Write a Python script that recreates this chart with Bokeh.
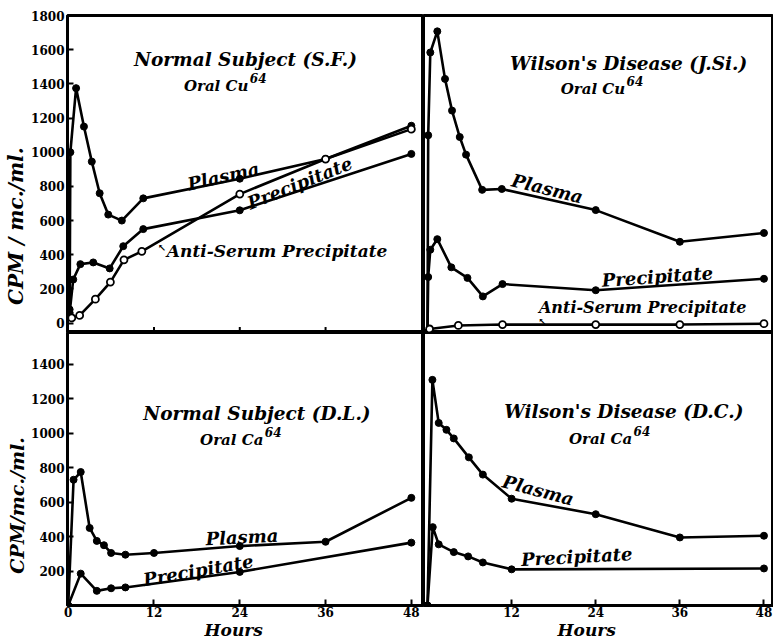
import math
from bokeh.plotting import figure
from bokeh.layouts import gridplot
from bokeh.models import Label, FixedTicker, Range1d
from bokeh.embed import file_html
from bokeh.resources import INLINE

# ---------------- data (hours, CPM/mc./ml.) ----------------
# Normal Subject (S.F.)
sf_plasma_h = [0.2, 0.3, 1.1, 2.2, 3.3, 4.4, 5.6, 7.5, 10.5, 24, 36, 48]
sf_plasma = [80, 1000, 1375, 1150, 945, 760, 635, 600, 730, 845, 960, 1155]
sf_precip_h = [0.2, 0.7, 1.7, 3.5, 5.8, 7.7, 10.5, 24, 48]
sf_precip = [60, 255, 345, 355, 320, 450, 550, 660, 990]
sf_anti_h = [0.5, 1.6, 3.8, 5.9, 7.8, 10.3, 24, 36, 48]
sf_anti = [30, 45, 140, 240, 370, 420, 755, 960, 1135]

# Wilson's Disease (J.Si.)
js_plasma_h = [0, 0.1, 0.4, 1.4, 2.5, 3.5, 4.6, 5.5, 7.8, 10.6, 24, 36, 48]
js_plasma = [0, 1120, 1590, 1710, 1440, 1260, 1110, 1010, 810, 815, 695, 515, 565]
js_precip_h = [0, 0.1, 0.4, 1.4, 3.4, 5.7, 7.9, 10.7, 24, 48]
js_precip = [0, 315, 470, 530, 370, 310, 205, 275, 240, 305]
js_anti_h = [0.3, 4.4, 10.7, 24, 36, 48]
js_anti = [20, 40, 45, 45, 45, 50]

# Normal Subject (D.L.)
dl_plasma_h = [0, 0.75, 1.75, 3, 4, 5, 6, 8, 12, 24, 36, 48]
dl_plasma = [0, 730, 775, 450, 375, 350, 305, 295, 305, 345, 370, 625]
dl_precip_h = [0, 1.75, 4, 6, 8, 24, 48]
dl_precip = [0, 185, 85, 100, 105, 195, 365]

# Wilson's Disease (D.C.)
dc_plasma_h = [0, 0.7, 1.6, 2.7, 3.75, 5.9, 7.9, 12, 24, 36, 48]
dc_plasma = [0, 1310, 1060, 1020, 970, 860, 760, 620, 530, 395, 405]
dc_precip_h = [0, 0.75, 1.6, 3.75, 5.8, 7.9, 12, 48]
dc_precip = [0, 455, 355, 310, 285, 250, 210, 215]

top_y_ticks = [0, 200, 400, 600, 800, 1000, 1200, 1400, 1600, 1800]
bottom_y_ticks = [200, 400, 600, 800, 1000, 1200, 1400]
left_x_ticks = [0, 12, 24, 36, 48]
right_x_ticks = [12, 24, 36, 48]
top_inner_ticks = [12, 24, 36]

FONT = "DejaVu Serif"
LW = 2.6
NB = "\u00a0"


def make_fig(w, h, xr, yr, mbl, mbt, mbb):
    p = figure(width=w, height=h, x_range=Range1d(*xr), y_range=Range1d(*yr),
               output_backend="svg", toolbar_location=None,
               min_border=0, min_border_left=mbl, min_border_right=0,
               min_border_top=mbt, min_border_bottom=mbb)
    p.grid.visible = False
    p.outline_line_color = "black"
    p.outline_line_width = 3
    p.background_fill_color = "white"
    p.border_fill_color = "white"
    return p


def style_axis(ax, ticks):
    ax.ticker = FixedTicker(ticks=ticks)
    ax.axis_line_width = 3
    ax.axis_line_color = "black"
    ax.major_tick_in = 6
    ax.major_tick_out = 0
    ax.major_tick_line_width = 2
    ax.minor_tick_line_color = None
    ax.major_label_text_font = FONT
    ax.major_label_text_font_style = "bold"
    ax.major_label_text_font_size = "12px"
    ax.major_label_text_color = "black"
    ax.axis_label_text_font = FONT
    ax.axis_label_text_font_style = "bold italic"
    ax.axis_label_text_color = "black"
    ax.axis_label_standoff = 0


def series(p, xs, ys, open_marker=False):
    p.line(xs, ys, line_width=LW, line_color="black")
    if open_marker:
        p.scatter(xs, ys, marker="circle", size=7, fill_color="white",
                  line_color="black", line_width=1.8)
    else:
        p.scatter(xs, ys, marker="circle", size=7, fill_color="black",
                  line_color="black")


def txt(p, x, y, s, size=18, angle=0, align="center", style="bold italic"):
    p.add_layout(Label(x=x, y=y, text=s, text_font=FONT, text_font_style=style,
                       text_font_size=f"{size}px", text_color="black",
                       text_align=align, text_baseline="middle",
                       angle=math.radians(angle)))


LX = (-0.1, 49.7)
RX = (-0.57, 49.36)
TLY = (-55, 1800)
TRY = (0, 1800)
BY = (0, 1585)

# ---------------- top-left ----------------
tl = make_fig(423, 332, LX, TLY, 67, 15, 0)
tl.xaxis.visible = False
style_axis(tl.yaxis[0], top_y_ticks)
tl.yaxis.major_label_standoff = 3
tl.yaxis.axis_label = "CPM / mc./ml." + NB * 15
tl.yaxis.axis_label_text_font_size = "20px"
tl.segment(x0=top_inner_ticks, y0=[TLY[0]] * 3, x1=top_inner_ticks, y1=[TLY[0] + 32] * 3,
           line_width=2, line_color="black")
series(tl, sf_plasma_h, sf_plasma)
series(tl, sf_precip_h, sf_precip)
series(tl, sf_anti_h, sf_anti, open_marker=True)
txt(tl, 24.8, 1540, "Normal Subject (S.F.)", size=18.5)
txt(tl, 25.2, 1390, "Oral Cu", size=15, align="right")
txt(tl, 25.4, 1436, "64", size=12, align="left")
txt(tl, 21.7, 860, "Plasma", angle=13)
txt(tl, 32.4, 820, "Precipitate", angle=22)
txt(tl, 13.1, 445, "\u2196", size=10, style="bold")
txt(tl, 13.8, 420, "Anti-Serum Precipitate", size=17, align="left")

# ---------------- top-right ----------------
tr = make_fig(350, 332, RX, TRY, 0, 15, 0)
tr.xaxis.visible = False
tr.yaxis.visible = False
series(tr, js_plasma_h, js_plasma)
series(tr, js_precip_h, js_precip)
series(tr, js_anti_h, js_anti, open_marker=True)
txt(tr, 28.7, 1528, "Wilson's Disease (J.Si.)", size=18.5)
txt(tr, 28.2, 1385, "Oral Cu", size=15, align="right")
txt(tr, 28.4, 1430, "64", size=12, align="left")
txt(tr, 17.1, 818, "Plasma", angle=-14)
txt(tr, 32.8, 318, "Precipitate", angle=4)
txt(tr, 30.7, 142, "Anti-Serum Precipitate", size=16)
txt(tr, 16.4, 62, "\u2196", size=10, style="bold")

# ---------------- bottom-left ----------------
bl = make_fig(423, 310, LX, BY, 67, 0, 32)
style_axis(bl.yaxis[0], bottom_y_ticks)
style_axis(bl.xaxis[0], left_x_ticks)
bl.yaxis.major_label_standoff = 3
bl.yaxis.axis_label = "CPM/mc./ml." + NB * 11
bl.yaxis.axis_label_text_font_size = "19px"
bl.xaxis.major_label_standoff = 1
bl.xaxis.axis_label = "Hours" + NB * 4
bl.xaxis.axis_label_text_font_size = "17px"
series(bl, dl_plasma_h, dl_plasma)
series(bl, dl_precip_h, dl_precip)
txt(bl, 26.4, 1114, "Normal Subject (D.L.)", size=18.5)
txt(bl, 27.3, 960, "Oral Ca", size=15, align="right")
txt(bl, 27.5, 1008, "64", size=12, align="left")
txt(bl, 24.3, 398, "Plasma", angle=3)
txt(bl, 18.2, 205, "Precipitate", angle=10)

# ---------------- bottom-right ----------------
br = make_fig(350, 310, RX, BY, 0, 0, 32)
br.yaxis.visible = False
style_axis(br.xaxis[0], right_x_ticks)
br.xaxis.major_label_standoff = 1
br.xaxis.axis_label = "Hours" + NB * 4
br.xaxis.axis_label_text_font_size = "17px"
series(br, dc_plasma_h, dc_plasma)
series(br, dc_precip_h, dc_precip)
txt(br, 28.0, 1125, "Wilson's Disease (D.C.)", size=18.5)
txt(br, 29.2, 966, "Oral Ca", size=15, align="right")
txt(br, 29.4, 1011, "64", size=12, align="left")
txt(br, 15.8, 670, "Plasma", angle=-15)
txt(br, 21.3, 284, "Precipitate", angle=3)

grid = gridplot([[tl, tr], [bl, br]], toolbar_location=None)

open("out.html", "w").write(file_html(grid, INLINE))
